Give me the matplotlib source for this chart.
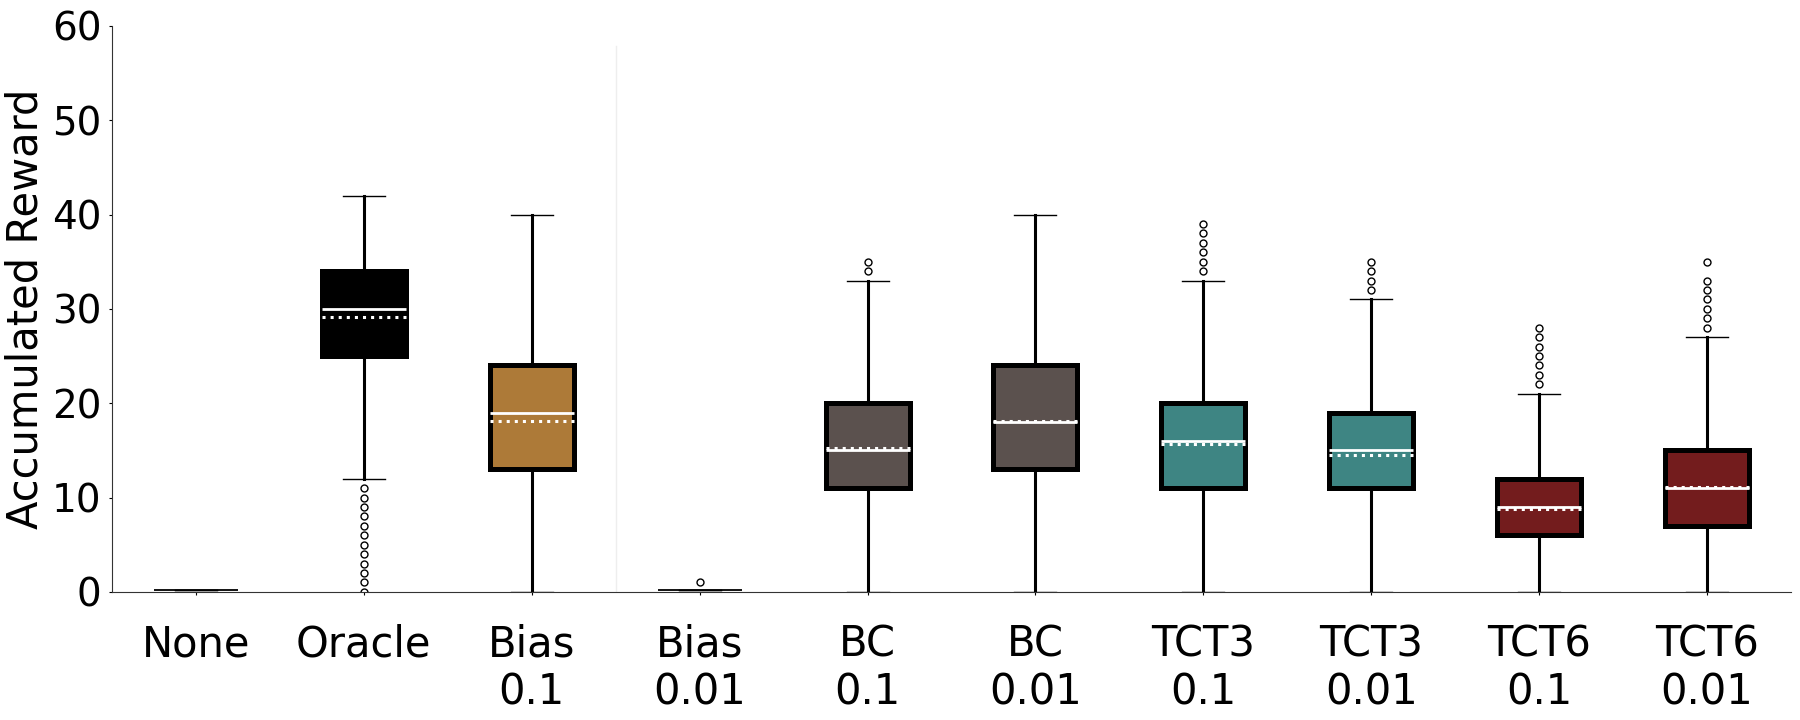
import matplotlib
matplotlib.use("Agg")
import matplotlib.pyplot as plt

# ── Data ─────────────────────────────────────────────────────────────────────
labels  = ["None", "Oracle", "Bias\n0.1", "Bias\n0.01", "BC\n0.1", "BC\n0.01",
           "TCT3\n0.1", "TCT3\n0.01", "TCT6\n0.1", "TCT6\n0.01"]
q1      = [0.2, 25, 13, 0.2, 11, 13, 11, 11, 6, 7]
q3      = [0.2, 34, 24, 0.2, 20, 24, 20, 19, 12, 15]
medians = [0.2, 30, 19, 0.2, 15, 18, 16, 15, 9, 11]
means   = [0.2, 29.1, 18.1, 0.2, 15.2, 18.1, 15.7, 14.5, 8.8, 11.1]
whislo  = [0.2, 12, 0, 0.2, 0, 0, 0, 0, 0, 0]
whishi  = [0.2, 42, 40, 0.2, 33, 40, 33, 31, 21, 27]
fliers  = [
    [],
    [0, 1, 2, 3, 4, 5, 6, 7, 8, 9, 10, 11],
    [],
    [1],
    [34, 35],
    [],
    [34, 35, 36, 37, 38, 39],
    [32, 33, 34, 35],
    [22, 23, 24, 25, 26, 27, 28],
    [28, 29, 30, 31, 32, 33, 35],
]
colors = ["white", "black", "#ad7a38", "white", "#5b514e", "#5b514e",
          "#3e8583", "#3e8583", "#731c1d", "#731c1d"]
empty = [0, 3]   # runs with (almost) no reward, drawn as a flat line

stats = []
for i, lab in enumerate(labels):
    stats.append(dict(label=lab, q1=q1[i], q3=q3[i], med=medians[i],
                      mean=means[i], whislo=whislo[i], whishi=whishi[i],
                      fliers=fliers[i]))

# ── Figure ───────────────────────────────────────────────────────────────────
fig, ax = plt.subplots(figsize=(18, 7.2), dpi=100)
fig.subplots_adjust(left=0.0622, right=0.995, top=0.964, bottom=0.178)

bp = ax.bxp(
    stats, positions=range(len(labels)), widths=0.5,
    patch_artist=True, showmeans=True, meanline=True,
    boxprops=dict(linewidth=3.6, edgecolor="black"),
    whiskerprops=dict(linewidth=2.2, color="black"),
    capprops=dict(linewidth=1.0, color="black"),
    medianprops=dict(linewidth=2.0, color="white"),
    meanprops=dict(linewidth=2.2, color="white", linestyle=":"),
    flierprops=dict(marker="o", markersize=5, markerfacecolor="none",
                    markeredgecolor="black", markeredgewidth=1.0),
)

for patch, c in zip(bp["boxes"], colors):
    patch.set_facecolor(c)

for i in empty:
    bp["boxes"][i].set_linewidth(1.3)
    bp["medians"][i].set_visible(False)
    bp["means"][i].set_visible(False)

# faint separator between baselines and the rest
ax.axvline(2.5, ymin=0, ymax=0.965, color="#eeeeee", linewidth=1.0, zorder=0)

ax.set_xlim(-0.5, 9.5)
ax.set_ylim(0, 60)
ax.set_yticks(range(0, 61, 10))
ax.set_ylabel("Accumulated Reward", fontsize=30)
ax.tick_params(axis="y", labelsize=28, length=2.5, pad=5)
ax.tick_params(axis="x", labelsize=30, length=2.5, pad=20)

for side in ("top", "right"):
    ax.spines[side].set_visible(False)
for side in ("left", "bottom"):
    ax.spines[side].set_color("#333333")

fig.savefig("out.png", dpi=100)
